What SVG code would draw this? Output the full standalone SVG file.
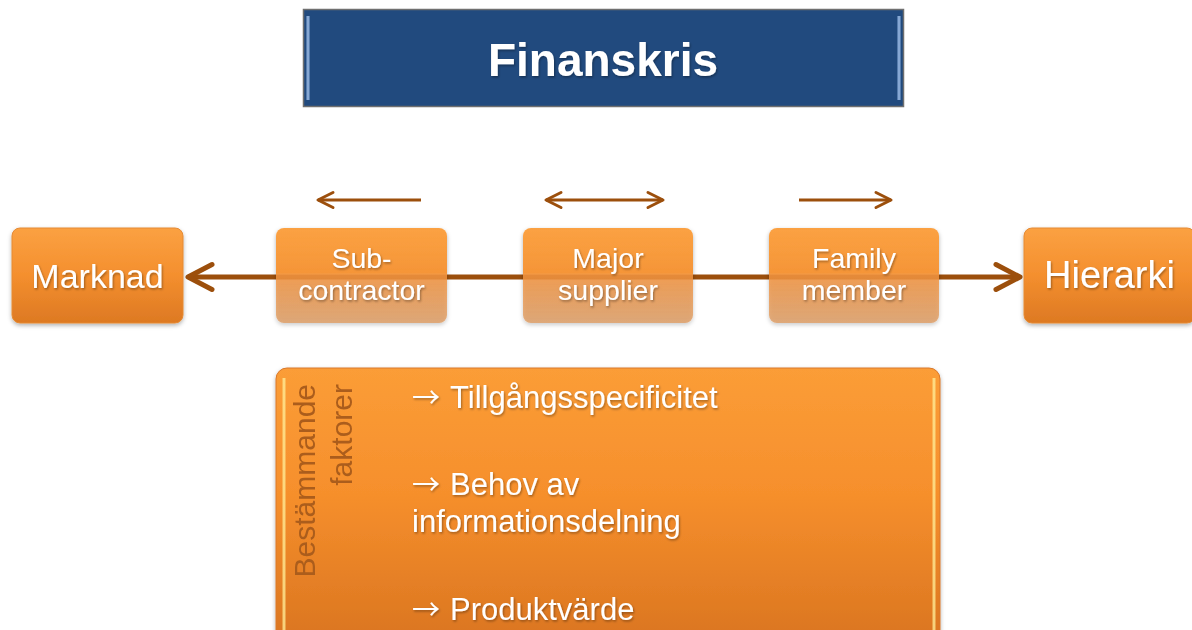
<svg xmlns="http://www.w3.org/2000/svg" width="1192" height="630" viewBox="0 0 1192 630">
  <style>
    .lbl { font-family: "Liberation Sans", Arial, sans-serif; fill: #ffffff; text-anchor: middle; }
    .big { font-family: "Liberation Sans", Arial, sans-serif; fill: #ffffff; font-size: 31px; }
    .arr { font-family: "Noto Sans CJK JP", "DejaVu Sans", sans-serif; font-size: 28px; }
    .side { font-family: "Liberation Sans", Arial, sans-serif; fill: #ab5d1c; font-size: 30px; text-anchor: end; }
    .conn { stroke: #9c4f0c; fill: none; }
  </style>
  <defs>
    <linearGradient id="gSolid" x1="0" y1="0" x2="0" y2="1">
      <stop offset="0" stop-color="#fba142"/>
      <stop offset="0.5" stop-color="#f48f2e"/>
      <stop offset="1" stop-color="#dd7923"/>
    </linearGradient>
    <linearGradient id="gFade" x1="0" y1="0" x2="0" y2="1">
      <stop offset="0" stop-color="#fba142" stop-opacity="1"/>
      <stop offset="0.47" stop-color="#f69333" stop-opacity="0.96"/>
      <stop offset="0.5" stop-color="#f29440" stop-opacity="0.86"/>
      <stop offset="1" stop-color="#d98a45" stop-opacity="0.64"/>
    </linearGradient>
    <linearGradient id="gPanel" x1="0" y1="0" x2="0" y2="1">
      <stop offset="0" stop-color="#fb9d37"/>
      <stop offset="0.45" stop-color="#f68f2c"/>
      <stop offset="1" stop-color="#d97420"/>
    </linearGradient>
    <linearGradient id="gEdge" x1="0" y1="0" x2="1" y2="0">
      <stop offset="0" stop-color="#ffe58a" stop-opacity="0.2"/>
      <stop offset="0.5" stop-color="#fff09c" stop-opacity="0.95"/>
      <stop offset="1" stop-color="#ffe58a" stop-opacity="0.2"/>
    </linearGradient>
    <linearGradient id="gBlueEdge" x1="0" y1="0" x2="1" y2="0">
      <stop offset="0" stop-color="#8fb4e3" stop-opacity="0.3"/>
      <stop offset="0.5" stop-color="#a9c6ee" stop-opacity="0.95"/>
      <stop offset="1" stop-color="#8fb4e3" stop-opacity="0.3"/>
    </linearGradient>
    <filter id="shadow" x="-10%" y="-10%" width="120%" height="130%">
      <feDropShadow dx="0" dy="2" stdDeviation="2" flood-color="#000" flood-opacity="0.3"/>
    </filter>
    <filter id="txtShadow" x="-5%" y="-20%" width="110%" height="140%">
      <feDropShadow dx="1" dy="1.5" stdDeviation="1" flood-color="#000" flood-opacity="0.35"/>
    </filter>
    <marker id="headBig" markerUnits="userSpaceOnUse" viewBox="-30 -16 34 32" markerWidth="34" markerHeight="32" refX="0" refY="0" orient="auto-start-reverse">
      <path d="M -24 -12.5 L 0 0 L -24 12.5" fill="none" stroke="#9c4f0c" stroke-width="5" stroke-linecap="round" stroke-linejoin="round"/>
    </marker>
    <marker id="headSmall" markerUnits="userSpaceOnUse" viewBox="-20 -10 24 20" markerWidth="24" markerHeight="20" refX="0" refY="0" orient="auto-start-reverse">
      <path d="M -15 -7.5 L 0 0 L -15 7.5" fill="none" stroke="#9c4f0c" stroke-width="3" stroke-linecap="round" stroke-linejoin="round"/>
    </marker>
  </defs>

  <rect width="1192" height="630" fill="#ffffff"/>

  <!-- title -->
  <g id="title">
    <rect x="303.5" y="9.5" width="600" height="97" fill="#214a7e" stroke="#6f6f6f" stroke-width="1.5"/>
    <rect x="306" y="16" width="4" height="84" fill="url(#gBlueEdge)"/>
    <rect x="897" y="16" width="4" height="84" fill="url(#gBlueEdge)"/>
    <text x="603" y="76" class="lbl" font-size="46" font-weight="bold" filter="url(#txtShadow)">Finanskris</text>
  </g>

  <!-- connectors: main axis and the three direction hints -->
  <g id="connectors" class="conn">
    <line x1="188" y1="277" x2="1020" y2="277" stroke-width="5" marker-start="url(#headBig)" marker-end="url(#headBig)"/>
    <line x1="421" y1="200" x2="318" y2="200" stroke-width="3" marker-end="url(#headSmall)"/>
    <line x1="546" y1="200" x2="663" y2="200" stroke-width="3" marker-start="url(#headSmall)" marker-end="url(#headSmall)"/>
    <line x1="799" y1="200" x2="891" y2="200" stroke-width="3" marker-end="url(#headSmall)"/>
  </g>

  <!-- end points -->
  <g id="marknad" filter="url(#shadow)">
    <rect x="12" y="228" width="171" height="95" rx="8" fill="url(#gSolid)" stroke="#e58a34" stroke-width="1"/>
    <text x="97.5" y="288" class="lbl" font-size="34" filter="url(#txtShadow)">Marknad</text>
  </g>
  <g id="hierarki" filter="url(#shadow)">
    <rect x="1024" y="228" width="171" height="95" rx="8" fill="url(#gSolid)" stroke="#e58a34" stroke-width="1"/>
    <text x="1109.5" y="288" class="lbl" font-size="38" filter="url(#txtShadow)">Hierarki</text>
  </g>

  <!-- intermediate forms -->
  <g id="subcontractor" filter="url(#shadow)">
    <rect x="276" y="228" width="171" height="95" rx="8" fill="url(#gFade)"/>
    <text class="lbl" font-size="28.5" filter="url(#txtShadow)"><tspan x="361.5" y="268">Sub-</tspan><tspan x="361.5" y="300">contractor</tspan></text>
  </g>
  <g id="major-supplier" filter="url(#shadow)">
    <rect x="523" y="228" width="170" height="95" rx="8" fill="url(#gFade)"/>
    <text class="lbl" font-size="28.5" filter="url(#txtShadow)"><tspan x="608" y="268">Major</tspan><tspan x="608" y="300">supplier</tspan></text>
  </g>
  <g id="family-member" filter="url(#shadow)">
    <rect x="769" y="228" width="170" height="95" rx="8" fill="url(#gFade)"/>
    <text class="lbl" font-size="28.5" filter="url(#txtShadow)"><tspan x="854" y="268">Family</tspan><tspan x="854" y="300">member</tspan></text>
  </g>

  <!-- determining factors panel -->
  <g id="faktorer" filter="url(#shadow)">
    <rect x="276" y="368" width="664" height="280" rx="11" fill="url(#gPanel)" stroke="#d9782a" stroke-width="1"/>
    <rect x="282" y="378" width="4" height="252" fill="url(#gEdge)"/>
    <rect x="932" y="378" width="4" height="252" fill="url(#gEdge)"/>
    <text class="side" transform="translate(315,384) rotate(-90)">Bestämmande</text>
    <text class="side" transform="translate(352,384) rotate(-90)">faktorer</text>
    <g filter="url(#txtShadow)">
      <text class="big" x="412" y="408"><tspan class="arr">→</tspan><tspan x="450">Tillgångsspecificitet</tspan></text>
      <text class="big" x="412" y="495"><tspan class="arr">→</tspan><tspan x="450">Behov av</tspan></text>
      <text class="big" x="412" y="532">informationsdelning</text>
      <text class="big" x="412" y="620"><tspan class="arr">→</tspan><tspan x="450">Produktvärde</tspan></text>
    </g>
  </g>
</svg>
